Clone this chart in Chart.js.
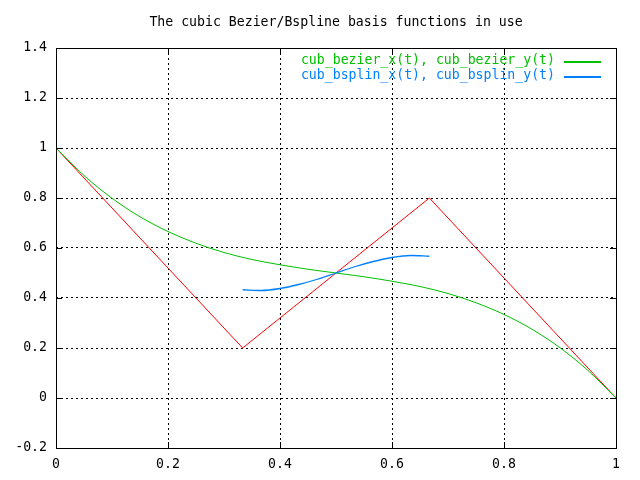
<!DOCTYPE html>
<html>
<head>
<meta charset="utf-8">
<script src="https://cdn.jsdelivr.net/npm/chart.js@4/dist/chart.umd.min.js"></script>
<style>
  html, body { margin: 0; padding: 0; background: #ffffff; }
  #wrap { width: 640px; height: 480px; }
</style>
</head>
<body>
<div id="wrap"><canvas id="bezierChart" width="640" height="480"></canvas></div>
<script>
const titleText = "The cubic Bezier/Bspline basis functions in use";
const legendLabels = ["cub_bezier_x(t), cub_bezier_y(t)", "cub_bsplin_x(t), cub_bsplin_y(t)"];

// control polygon (red, no legend entry)
const ctrlX = [0, 0.3333, 0.6667, 1];
const ctrlY = [1, 0.2, 0.8, 0];

// bezier curve
const bezierX = [0, 0.05, 0.1, 0.15, 0.2, 0.25, 0.3, 0.35, 0.4, 0.45, 0.5, 0.55, 0.6, 0.65, 0.7, 0.75, 0.8, 0.85, 0.9, 0.95, 1];
const bezierY = [1, 0.890, 0.799, 0.725, 0.666, 0.619, 0.582, 0.554, 0.533, 0.515, 0.5, 0.485, 0.467, 0.446, 0.418, 0.381, 0.334, 0.275, 0.201, 0.110, 0];

// bspline curve
const bsplineX = [0.3333, 0.3667, 0.4, 0.4333, 0.4667, 0.5, 0.5333, 0.5667, 0.6, 0.6333, 0.6667];
const bsplineY = [0.433, 0.430, 0.438, 0.454, 0.475, 0.5, 0.525, 0.546, 0.562, 0.570, 0.567];

const xTicks = [0, 0.2, 0.4, 0.6, 0.8, 1];
const yTicks = [-0.2, 0, 0.2, 0.4, 0.6, 0.8, 1, 1.2, 1.4];
const xTickLabels = ["0", "0.2", "0.4", "0.6", "0.8", "1"];
const yTickLabels = ["-0.2", "0", "0.2", "0.4", "0.6", "0.8", "1", "1.2", "1.4"];

const RED = "#ff0000";
const GREEN = "#00c000";
const BLUE = "#0080ff";
const FONT = "'DejaVu Sans Mono', 'Liberation Mono', monospace";

function toPoints(xs, ys) {
    return xs.map((x, i) => ({ x: x, y: ys[i] }));
}

// title, frame, inward tick marks and legend, the gnuplot way
const gnuplotDecor = {
    id: "gnuplotDecor",
    afterDraw(chart) {
        const ctx = chart.ctx;
        const area = chart.chartArea;
        const xs = chart.scales.x;
        const ys = chart.scales.y;
        ctx.save();

        // title
        ctx.fillStyle = "#000000";
        ctx.font = "13.2px " + FONT;
        ctx.textAlign = "center";
        ctx.textBaseline = "middle";
        ctx.fillText(titleText, (area.left + area.right) / 2, 23);

        // frame
        ctx.strokeStyle = "#000000";
        ctx.lineWidth = 1;
        ctx.setLineDash([]);
        ctx.strokeRect(Math.round(area.left) + 0.5, Math.round(area.top) + 0.5,
            Math.round(area.right - area.left), Math.round(area.bottom - area.top));

        // tick marks on all four sides, pointing inward
        const len = 6;
        ctx.beginPath();
        xTicks.forEach(v => {
            const px = Math.round(xs.getPixelForValue(v)) + 0.5;
            ctx.moveTo(px, area.bottom); ctx.lineTo(px, area.bottom - len);
            ctx.moveTo(px, area.top); ctx.lineTo(px, area.top + len);
        });
        yTicks.forEach(v => {
            const py = Math.round(ys.getPixelForValue(v)) + 0.5;
            ctx.moveTo(area.left, py); ctx.lineTo(area.left + len, py);
            ctx.moveTo(area.right, py); ctx.lineTo(area.right - len, py);
        });
        ctx.stroke();

        // legend, top right inside the frame
        const colors = [GREEN, BLUE];
        ctx.textAlign = "right";
        legendLabels.forEach((label, i) => {
            const y = 61 + i * 15;
            ctx.fillStyle = colors[i];
            ctx.fillText(label, 555, y);
            // sample line
            ctx.fillRect(564, y, 37, 2);
        });
        ctx.restore();
    }
};

const ctx = document.getElementById("bezierChart").getContext("2d");
new Chart(ctx, {
    type: "scatter",
    data: {
        datasets: [
            {
                label: "control",
                data: toPoints(ctrlX, ctrlY),
                showLine: true,
                borderColor: RED,
                borderWidth: 1,
                pointRadius: 0,
                order: 3
            },
            {
                label: legendLabels[0],
                data: toPoints(bezierX, bezierY),
                showLine: true,
                borderColor: GREEN,
                borderWidth: 1,
                pointRadius: 0,
                cubicInterpolationMode: "monotone",
                order: 2
            },
            {
                label: legendLabels[1],
                data: toPoints(bsplineX, bsplineY),
                showLine: true,
                borderColor: BLUE,
                borderWidth: 1.3,
                pointRadius: 0,
                cubicInterpolationMode: "monotone",
                order: 1
            }
        ]
    },
    options: {
        responsive: false,
        animation: false,
        events: [],
        layout: { padding: { top: 48, right: 24, left: 0, bottom: 0 } },
        plugins: {
            legend: { display: false },
            title: { display: false },
            tooltip: { enabled: false }
        },
        scales: {
            x: {
                type: "linear",
                min: 0,
                max: 1,
                afterBuildTicks: s => { s.ticks = xTicks.map(v => ({ value: v })); },
                afterFit: s => { s.height = 32; },
                ticks: {
                    padding: 9,
                    color: "#000000",
                    font: { family: FONT, size: 13.2 },
                    maxRotation: 0,
                    callback: (v, i) => xTickLabels[i]
                },
                grid: { color: "#000000", lineWidth: 1, drawTicks: false },
                border: { display: false, dash: [2, 3] }
            },
            y: {
                type: "linear",
                min: -0.2,
                max: 1.4,
                afterBuildTicks: s => { s.ticks = yTicks.map(v => ({ value: v })); },
                afterFit: s => { s.width = 56; },
                ticks: {
                    padding: 9,
                    color: "#000000",
                    font: { family: FONT, size: 13.2 },
                    callback: (v, i) => yTickLabels[i]
                },
                grid: { color: "#000000", lineWidth: 1, drawTicks: false },
                border: { display: false, dash: [2, 3] }
            }
        }
    },
    plugins: [gnuplotDecor]
});
</script>
</body>
</html>
